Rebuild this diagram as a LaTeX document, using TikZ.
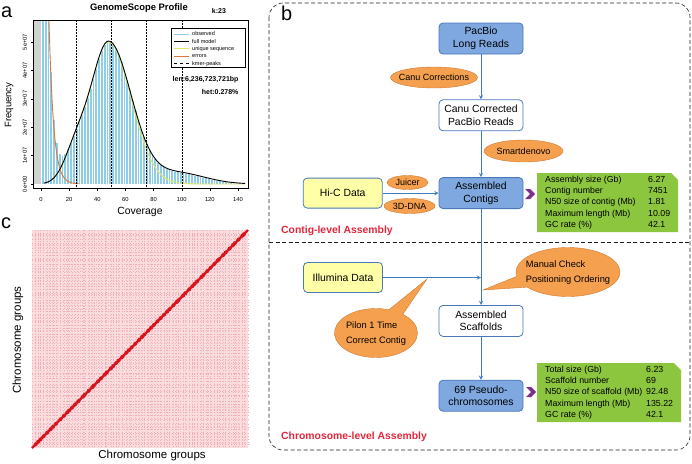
\documentclass[tikz,border=0pt]{standalone}
\usepackage{fontspec}
\setmainfont{Liberation Sans}
\usetikzlibrary{positioning,arrows,shapes.geometric,shapes.symbols,shapes.callouts}

\definecolor{boxblue}{HTML}{7EA8DF}
\definecolor{edgeblue}{HTML}{4A78B8}
\definecolor{lineblue}{HTML}{3D7CC9}
\definecolor{hiyellow}{HTML}{FFFFA8}
\definecolor{orangefill}{HTML}{F5A04F}
\definecolor{orangeedge}{HTML}{D07A30}
\definecolor{statgreen}{HTML}{8CC63F}
\definecolor{labelred}{HTML}{E3263A}
\definecolor{chevcol}{HTML}{7D2F8E}
\definecolor{histblue}{HTML}{8DCDE8}
\definecolor{errorange}{HTML}{D9793A}
\definecolor{uniqyellow}{HTML}{E2E66A}
\definecolor{hicpink}{HTML}{FBDCDE}
\definecolor{hicgrid}{HTML}{F0AEB5}
\definecolor{hicred}{HTML}{D8141C}

\newcommand{\fs}[2]{\fontsize{#1}{#2}\selectfont}

\begin{document}
\begin{tikzpicture}[x=1pt,y=-1pt,
  declare function={
    errk(\c)=32*exp(-\c/3.3);
    hetk(\c)=0.9*exp(-(\c-24)*(\c-24)/128);
    maink(\c)=5*exp(-(\c-48)*(\c-48)/((\c<48)*338+(1-(\c<48))*512));
    dupk(\c)=0.4*exp(-(\c-96)*(\c-96)/800);
    fullk(\c)=hetk(\c)+maink(\c)+dupk(\c);
    obsk(\c)=errk(\c)+fullk(\c);
    xc(\c)=41+1.407*\c;
    yf(\f)=184-28.4*\f;}]
   \tikzstyle{arrow} = [->,>=stealth,lineblue,line width=0.9pt]
   \tikzset{panel/.style = {font=\fs{20}{20}, anchor=base west, inner sep=0pt}, }
   \tikzset{ticklab/.style = {font=\fs{5.8}{6}, inner sep=0pt}, }
   \tikzset{legtext/.style = {font=\fs{5.5}{6}, anchor=west, inner sep=0pt}, }
   \tikzset{flowbox/.style = {rectangle, rounded corners=4pt, draw=edgeblue, line width=0.8pt, minimum width=84pt, minimum height=31pt, align=center, font=\fs{10.4}{12.5}}, }
   \tikzset{bluebox/.style = {flowbox, fill=boxblue}, }
   \tikzset{whitebox/.style = {flowbox, fill=white}, }
   \tikzset{databox/.style = {flowbox, fill=hiyellow, minimum width=79pt, minimum height=30pt}, }
   \tikzset{tool/.style = {ellipse, fill=orangefill, draw=orangeedge, line width=0.4pt, inner sep=0pt, font=\fs{9}{11}}, }
   \tikzset{note/.style = {ellipse callout, fill=orangefill, draw=orangeedge, line width=0.4pt, inner sep=0pt, font=\fs{9.3}{15}, minimum width=104pt, minimum height=49pt}, }
   \tikzset{stats/.style = {rectangle, inner xsep=8pt, inner ysep=1.5pt, anchor=north west, font=\fs{8.8}{11.2},
       path picture={\fill[statgreen] (path picture bounding box.south west) -- (path picture bounding box.north west)
         -- ([xshift=-7pt]path picture bounding box.north east) -- ([yshift=-7pt]path picture bounding box.north east)
         -- (path picture bounding box.south east) -- cycle;}}, }
   \tikzset{chev/.style = {signal, signal from=west, signal to=east, fill=chevcol, minimum width=7pt, minimum height=10pt, inner sep=0pt}, }
   \tikzset{stage/.style = {font=\bfseries\fs{10.4}{12}, text=labelred, anchor=west, inner sep=0pt}, }
   \useasboundingbox (0,0) rectangle (692,463);

   % a: k-mer profile
   \node[panel] (pa) at (1,17) {a};
   \node[font=\bfseries\fs{9.4}{10}] (gtitle) at (139,8) {GenomeScope Profile};
   \node[font=\bfseries\fs{7}{8}] (kval) at (219,11) {k:23};
   \begin{scope}
     \clip (33,20) rectangle (248,188);
     \fill[gray!35] (33,20) rectangle (41,184);
     \foreach \c in {0,2,...,144}
       \filldraw[fill=histblue, draw=white, line width=0.15pt] ({xc(\c)},184) rectangle ({xc(\c+2)},{yf(obsk(\c+1))});
     \draw[errorange, line width=0.9pt] plot[domain=3.5:27, samples=40] ({xc(\x)},{yf(errk(\x))});
     \draw[uniqyellow, line width=0.9pt] plot[domain=8:145, samples=100] ({xc(\x)},{yf(hetk(\x)+maink(\x))});
     \draw[black, line width=0.9pt] plot[domain=2:145, samples=120] ({xc(\x)},{yf(fullk(\x))});
   \end{scope}
   \foreach \v in {25,50,75,100}
     \draw[line width=0.4pt, dash pattern=on 1.5pt off 1.5pt] ({xc(\v)},20) -- ({xc(\v)},188);
   \draw[line width=0.5pt] (33,20) rectangle (248,188);
   \foreach \v/\t in {0/0e+00,1/1e+07,2/2e+07,3/3e+07,4/4e+07,5/5e+07} {
     \draw[line width=0.4pt] (33,{yf(\v)}) -- ++(-2.5,0);
     \node[ticklab, rotate=90] (ytick\v) at (25,{yf(\v)}) {\t};
   }
   \foreach \v in {0,20,...,140} {
     \draw[line width=0.4pt] ({xc(\v)},188) -- ++(0,2.5);
     \node[ticklab] (xtick\v) at ({xc(\v)},199) {\v};
   }
   \node[rotate=90, font=\fs{9.5}{10}] (freq) at (9,105) {Frequency};
   \node[font=\fs{10.4}{11}] (cover) at (140,212) {Coverage};
   % legend
   \draw[line width=0.4pt, fill=white] (171,28) rectangle (245,67);
   \foreach \txt/\col [count=\k from 0] in {observed/histblue, full model/black, unique sequence/uniqyellow, errors/errorange}{
     \draw[color=\col, line width=1pt] (174,{34+7.4*\k}) -- ++(15,0);
     \node[legtext] (leg\k) at (192,{34+7.4*\k}) {\txt};
   }
   \draw[line width=0.8pt, dash pattern=on 3pt off 3pt] (174,63.6) -- ++(15,0);
   \node[legtext] (leg4) at (192,63.6) {kmer-peaks};
   \node[font=\bfseries\fs{7}{8}, anchor=east] (lenk) at (242,80) {len:6,236,723,721bp};
   \node[font=\bfseries\fs{7}{8}, anchor=east] (hetv) at (242,92) {het:0.278\%};

   % c: Hi-C heat map
   \node[panel] (pc) at (1,228) {c};
   \fill[hicpink] (32,230) rectangle (248,448);
   \pgfmathsetseed{5}
   \foreach \i in {1,...,68}{
     \pgfmathsetmacro\p{32+3.1304*(\i+0.35*rand)}
     \pgfmathsetmacro\q{448-1.0093*(\p-32)}
     \draw[hicgrid, line width=0.35pt, dash pattern=on 0.7pt off 2.1pt] (\p,230) -- (\p,448);
     \draw[hicgrid, line width=0.35pt, dash pattern=on 0.7pt off 2.1pt] (32,\q) -- (248,\q);
   }
   \draw[hicred, line width=2.4pt] (32,448) -- (248,230);
   \pgfmathsetseed{5}
   \foreach \i in {1,...,68}{
     \pgfmathsetmacro\p{32+3.1304*(\i+0.35*rand)}
     \pgfmathsetmacro\q{448-1.0093*(\p-32)}
     \fill[hicred] (\p,\q) circle (2pt);
   }
   \node[rotate=90, font=\fs{11.5}{12}] (cygroups) at (18,340) {Chromosome groups};
   \node[font=\fs{11.5}{12}] (cxgroups) at (152,456) {Chromosome groups};

   % b: assembly pipeline
   \node[panel] (pb) at (281,20) {b};
   \draw[line width=0.6pt, gray!25!black, dash pattern=on 4pt off 2.5pt, rounded corners=14pt] (269,3) rectangle (690,450);
   \draw[line width=0.6pt, gray!25!black, dash pattern=on 4pt off 2.5pt] (269,242) -- (690,242);

   \node[bluebox] (pacbio) at (481,38.5) {PacBio\\Long Reads};
   \node[whitebox, below=45pt of pacbio] (canucor) {Canu Corrected\\PacBio Reads};
   \node[bluebox, below=46pt of canucor] (contigs) {Assembled\\Contigs};
   \node[databox, left=56pt of contigs] (hic) {Hi-C Data};
   \node[whitebox, below=96pt of contigs] (scaffolds) {Assembled\\Scaffolds};
   \node[bluebox, below=43pt of scaffolds] (pseudo) {69 Pseudo-\\chromosomes};
   \node[databox] (illumina) at (343,277.5) {Illumina Data};

   \node[tool, minimum width=87pt, minimum height=21pt] (canutool) at (434,77.5) {\makebox[0pt]{Canu Corrections}};
   \node[tool, minimum width=79pt, minimum height=22pt] (smart) at (523.5,151) {\makebox[0pt]{Smartdenovo}};
   \node[tool, minimum width=41pt, minimum height=14pt] (juicer) at (407.5,182.5) {\makebox[0pt]{Juicer}};
   \node[tool, minimum width=51pt, minimum height=15pt] (dna) at (409.5,206) {\makebox[0pt]{3D-DNA}};

   \coordinate (manualtip) at (483,290);
   \coordinate (pilontip) at (427,279);
   \node[note, callout absolute pointer=(manualtip), callout pointer arc=28] (manual) at (568,272)
     {\makebox[0pt]{\begin{tabular}{@{}l@{}}Manual Check\\Positioning Ordering\end{tabular}}};
   \node[note, minimum width=83pt, callout absolute pointer=(pilontip), callout pointer arc=22] (pilon) at (376,333)
     {\makebox[0pt]{\begin{tabular}{@{}l@{}}Pilon 1 Time\\Correct Contig\end{tabular}}};

   \draw[arrow] (pacbio) -- (canucor);
   \draw[arrow] (canucor) -- (contigs);
   \draw[arrow] (contigs) -- (scaffolds);
   \draw[arrow] (scaffolds) -- (pseudo);
   \draw[arrow] (hic) -- (contigs);
   \draw[arrow] (illumina) -- (illumina -| contigs);

   \node[stats] (contigstat) at (537,173) {\begin{tabular}{@{}p{103pt}@{}l@{}}
     Assembly size (Gb) & 6.27\\ Contig number & 7451\\ N50 size of contig (Mb) & 1.81\\
     Maximum length (Mb) & 10.09\\ GC rate (\%) & 42.1\end{tabular}};
   \node[chev] (chevup) at (530,194) {};
   \node[stats] (chromstat) at (537,363) {\begin{tabular}{@{}p{101pt}@{}l@{}}
     Total size (Gb) & 6.23\\ Scaffold number & 69\\ N50 size of scaffold (Mb) & 92.48\\
     Maximum length (Mb) & 135.22\\ GC rate (\%) & 42.1\end{tabular}};
   \node[chev] (chevdown) at (531,392) {};

   \node[stage] (contiglevel) at (281,231) {Contig-level Assembly};
   \node[stage] (chromlevel) at (281,437) {Chromosome-level Assembly};
\end{tikzpicture}
\end{document}
